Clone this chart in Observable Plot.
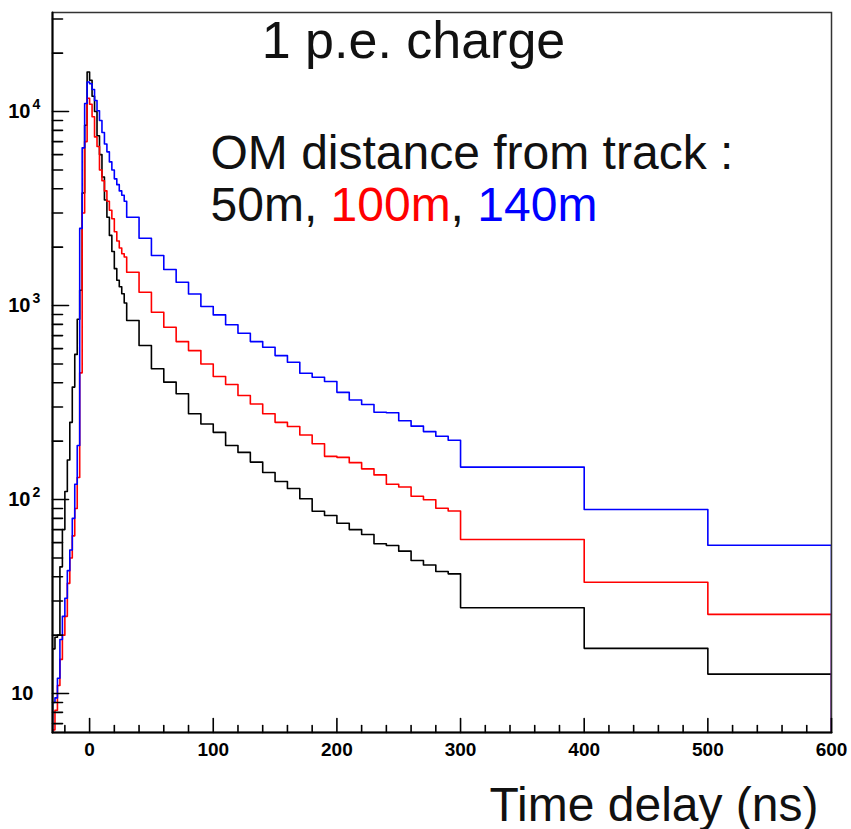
<!DOCTYPE html>
<html>
<head>
<meta charset="utf-8">
<script src="https://cdn.jsdelivr.net/npm/d3@7"></script>
<script src="https://cdn.jsdelivr.net/npm/@observablehq/plot@0.6"></script>
<style>
  html, body { margin: 0; padding: 0; background: #fff; }
  #chart { width: 851px; height: 829px; }
</style>
</head>
<body>
<div id="chart"></div>
<script>
// ---- Data ----
// Histogram bin edges in ns (2 ns bins to 30 ns, 10 ns bins to 300 ns, 100 ns bins to 600 ns)
const binEdges = [-30,-28,-26,-24,-22,-20,-18,-16,-14,-12,-10,-8,-6,-4,-2,0,2,4,6,8,10,12,14,16,18,20,22,24,26,28,30,
  40,50,60,70,80,90,100,110,120,130,140,150,160,170,180,190,200,210,220,230,240,250,260,270,280,290,300,
  400,500,600];

// OM at 50 m (black)
const counts50m = [17,19.5,20,45,70,110,160,250,380,560,850,1200,3800,8500,16000,14500,12000,10000,7500,6000,4600,3500,2850,2300,1900,1550,1350,1250,1150,1030,
  837,622,472,403,351,277,245,222,190,175,156,138,124,114,101,87.1,82.8,75.5,70,66,59.2,58,54.2,48.5,46,42.6,41.4,
  27.7,17.1,12.6];
// OM at 100 m (red)
const counts100m = [6.5,8.2,11,15,20,25,37,50,65,90,130,450,3000,7000,11700,10900,9400,7400,6600,5000,4400,3900,3450,3100,2800,2400,2150,1980,1850,1780,
  1486,1172,923,773,652,586,500,431,392,344,311,277,250,238,215,194,167,165,155,144,134,120,116,104,99.8,90.2,87.3,
  62.2,37.5,25.6];
// OM at 140 m (blue)
const counts140m = [9,9.5,12,19,25,31,43,55,80,120,190,2500,6500,11000,14200,13900,13000,11400,10100,9000,7800,6800,6200,5500,5000,4500,4200,3900,3700,3450,
  2851,2223,1811,1534,1318,1148,988,895,796,720,652,610,552,510,448,427,406,357,326,309,282,280,255,239,224,212,202,
  147,88.8,58.1];

const seriesNames = ["50m", "100m", "140m"];
const seriesColors = ["#000000", "#ff0000", "#0000ff"];

// Axes
const xDomain = [-30, 600];
const yDomain = [6.3, 32400];
const xMajorTicks = [0, 100, 200, 300, 400, 500, 600];
const xMinorTicks = [-20, 20, 40, 60, 80, 120, 140, 160, 180, 220, 240, 260, 280, 320, 340, 360, 380, 420, 440, 460, 480, 520, 540, 560, 580];
const yMajorTicks = [10, 100, 1000, 10000];
const yMinorTicks = [7, 8, 9, 20, 30, 40, 50, 60, 70, 80, 90, 200, 300, 400, 500, 600, 700, 800, 900,
  2000, 3000, 4000, 5000, 6000, 7000, 8000, 9000, 20000, 30000];
const yTickBase = ["10", "10", "10", "10"];
const yTickExp = ["", "2", "3", "4"];

const titleText = "1 p.e. charge";
const legendLine1 = "OM distance from track :";
const xLabel = "Time delay (ns)";
const baselineCount = 1; // histogram outline closes down to the baseline (clipped)

// ---- Build step-outline tables ----
function outline(counts, name) {
  const pts = [{x: binEdges[0], y: baselineCount, s: name}];
  counts.forEach((c, i) => pts.push({x: binEdges[i], y: c, s: name}));
  pts.push({x: binEdges[binEdges.length - 1], y: counts[counts.length - 1], s: name});
  pts.push({x: binEdges[binEdges.length - 1], y: baselineCount, s: name});
  return pts;
}
const lines = [
  outline(counts50m, seriesNames[0]),
  outline(counts100m, seriesNames[1]),
  outline(counts140m, seriesNames[2])
];

const FONT = '"Liberation Sans", Arial, Helvetica, sans-serif';
const bigSize = 48;
const ctx = document.createElement("canvas").getContext("2d");
ctx.font = `${bigSize}px ${FONT}`;
const pieces = [
  {t: "50m, ", c: "#111"},
  {t: "100m", c: seriesColors[1]},
  {t: ", ", c: "#111"},
  {t: "140m", c: seriesColors[2]}
];
let acc = 0;
pieces.forEach(p => { p.off = acc; acc += ctx.measureText(p.t).width; });

const textLeft = 158;     // px from frame left
const line1Base = 156;    // px from frame top (baseline)
const line2Base = 208;

const yLab = yMajorTicks.map((v, i) => ({v, base: yTickBase[i], exp: yTickExp[i]}));

// layout
const W = 851, H = 829, mL = 52, mR = 20, mT = 12, mB = 97;
const frameW = W - mL - mR, frameH = H - mT - mB;
// tick lengths in pixels converted to data extents along the perpendicular scale
const yTickEnd = px => yDomain[0] * Math.pow(yDomain[1] / yDomain[0], px / frameH);
const xTickEnd = px => xDomain[0] + (xDomain[1] - xDomain[0]) * px / frameW;

// tick segments as two-point paths
const tickSegs = [];
xMajorTicks.forEach((t, i) => { tickSegs.push({id: "xM" + i, x: t, y: yDomain[0]}, {id: "xM" + i, x: t, y: yTickEnd(14)}); });
xMinorTicks.forEach((t, i) => { tickSegs.push({id: "xm" + i, x: t, y: yDomain[0]}, {id: "xm" + i, x: t, y: yTickEnd(7)}); });
yMajorTicks.forEach((t, i) => { tickSegs.push({id: "yM" + i, x: xDomain[0], y: t}, {id: "yM" + i, x: xTickEnd(16), y: t}); });
yMinorTicks.forEach((t, i) => { tickSegs.push({id: "ym" + i, x: xDomain[0], y: t}, {id: "ym" + i, x: xTickEnd(10), y: t}); });
// left and bottom axis lines
const axisSegs = [
  {id: "L", x: xDomain[0], y: yDomain[0]}, {id: "L", x: xDomain[0], y: yDomain[1]},
  {id: "B", x: xDomain[0], y: yDomain[0]}, {id: "B", x: xDomain[1], y: yDomain[0]}
];

const chart = Plot.plot({
  width: W,
  height: H,
  marginLeft: mL,
  marginRight: mR,
  marginTop: mT,
  marginBottom: mB,
  style: {fontFamily: FONT, background: "#fff", color: "#000", overflow: "visible"},
  x: {type: "linear", domain: xDomain, axis: null},
  y: {type: "log", domain: yDomain, axis: null},
  marks: [
    // histograms (black, red, blue drawn in that order)
    ...lines.map((pts, i) => Plot.line(pts, {x: "x", y: "y", curve: "step-after", stroke: seriesColors[i], strokeWidth: 1.6, clip: true})),
    // frame
    Plot.frame({stroke: "#333", strokeWidth: 1.5}),
    Plot.line(axisSegs, {x: "x", y: "y", z: "id", stroke: "#000", strokeWidth: 2}),
    // inward ticks
    Plot.line(tickSegs, {x: "x", y: "y", z: "id", stroke: "#000", strokeWidth: 1.6}),
    // x tick labels
    Plot.text(xMajorTicks, {x: d => d, text: d => String(d), frameAnchor: "bottom", dy: 17, lineAnchor: "middle", fontSize: 19, fontWeight: "bold"}),
    // y tick labels: base and superscript exponent
    Plot.text(yLab.filter(d => d.exp), {y: "v", text: "base", frameAnchor: "left", dx: -22, textAnchor: "end", lineAnchor: "middle", fontSize: 20, fontWeight: "bold"}),
    Plot.text(yLab.filter(d => d.exp), {y: "v", text: "exp", frameAnchor: "left", dx: -20, dy: -7, textAnchor: "start", lineAnchor: "middle", fontSize: 14, fontWeight: "bold"}),
    Plot.text(yLab.filter(d => !d.exp), {y: "v", text: "base", frameAnchor: "left", dx: -19, textAnchor: "end", lineAnchor: "middle", fontSize: 20, fontWeight: "bold"}),
    // title
    Plot.text([titleText], {frameAnchor: "top", dx: -28.5, dy: 45, lineAnchor: "bottom", fontSize: 52, fill: "#111"}),
    // legend text
    Plot.text([legendLine1], {frameAnchor: "top-left", dx: textLeft, dy: line1Base, textAnchor: "start", lineAnchor: "bottom", fontSize: bigSize, fill: "#111"}),
    ...pieces.map(p => Plot.text([p.t], {frameAnchor: "top-left", dx: textLeft + p.off, dy: line2Base, textAnchor: "start", lineAnchor: "bottom", fontSize: bigSize, fill: p.c})),
    // x axis title
    Plot.text([xLabel], {frameAnchor: "bottom-right", dx: -13, dy: 88, textAnchor: "end", lineAnchor: "bottom", fontSize: 48, fill: "#111"})
  ]
});
document.getElementById("chart").appendChild(chart);
</script>
</body>
</html>
